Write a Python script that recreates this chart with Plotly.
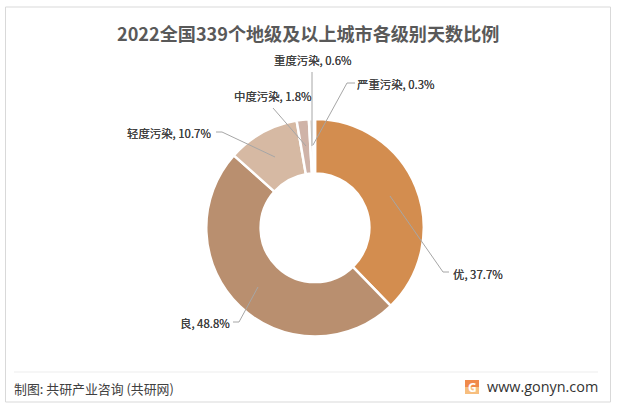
import plotly.graph_objects as go

W, H = 618, 410

# 数据
levels = ["优", "良", "轻度污染", "中度污染", "重度污染", "严重污染"]
shares = [37.7, 48.8, 10.7, 1.8, 0.6, 0.3]
colors = ["#D38D4F", "#B98F6F", "#D6B9A3", "#CFB3A8", "#E3DBD2", "#EFE6DC"]

title_text = "2022全国339个地级及以上城市各级别天数比例"
source_text = "制图: 共研产业咨询 (共研网)"
site_text = "www.gonyn.com"

CJK = "'Noto Sans CJK SC', 'Noto Sans', sans-serif"
LABEL_COLOR = "#404040"


def px(x):
    return x / W


def py(y):
    return 1 - y / H


fig = go.Figure(go.Pie(
    labels=levels,
    values=shares,
    marker=dict(colors=colors, line=dict(color="white", width=2.5)),
    hole=0.5,
    sort=False,
    direction="clockwise",
    rotation=0,
    textinfo="none",
    hoverinfo="label+percent",
    domain=dict(x=[px(206), px(424)], y=[py(336.5), py(119)]),
    showlegend=False,
))

# 标签位置和引导线 (像素)
label_layout = {
    "优": (453, 273.5, "left", [(390, 196), (443, 272), (449, 272)]),
    "良": (230, 322.5, "right", [(258, 287), (239, 322), (233, 322)]),
    "轻度污染": (211, 133, "right", [(216, 132), (222, 132), (275, 157)]),
    "中度污染": (312, 96, "right", [(273, 108), (306, 146)]),
    "重度污染": (352, 60, "right", [(312, 72), (312, 146)]),
    "严重污染": (357, 84, "left", [(355, 83), (347, 83), (313, 145)]),
}

shapes = [
    # 外框
    dict(type="rect", xref="paper", yref="paper", x0=px(5.5), x1=px(610.5), y0=py(402), y1=py(7),
         line=dict(color="#D9D9D9", width=1), fillcolor="rgba(0,0,0,0)", layer="below"),
    # 分隔线
    dict(type="line", xref="paper", yref="paper", x0=px(14), x1=px(598), y0=py(372), y1=py(372),
         line=dict(color="#EDEDED", width=1)),
    # logo
    dict(type="rect", xref="paper", yref="paper", x0=px(465), x1=px(479), y0=py(394), y1=py(387),
         line=dict(width=0), fillcolor="#F7BE7E"),
    dict(type="rect", xref="paper", yref="paper", x0=px(465), x1=px(479), y0=py(387), y1=py(380),
         line=dict(width=0), fillcolor="#F08A4B"),
]

annotations = [
    dict(text=title_text, x=px(308), y=py(33), xref="paper", yref="paper", showarrow=False,
         xanchor="center", yanchor="middle", font=dict(family=CJK, size=18.1, color="#595959", weight="bold")),
    dict(text=source_text, x=px(14), y=py(388), xref="paper", yref="paper", showarrow=False, borderpad=0, borderwidth=0,
         xanchor="left", yanchor="middle", font=dict(family=CJK, size=12.9, color="#404040")),
    dict(text=site_text, x=px(598), y=py(386), xref="paper", yref="paper", showarrow=False, borderpad=0, borderwidth=0,
         xanchor="right", yanchor="middle", font=dict(family="'Open Sans', sans-serif", size=14.4, color="#333333")),
    dict(text="G", x=px(472), y=py(387), xref="paper", yref="paper", showarrow=False,
         xanchor="center", yanchor="middle", font=dict(family="'Open Sans', sans-serif", size=12, color="white", weight="bold")),
]

for name, share in zip(levels, shares):
    x, y, anchor, pts = label_layout[name]
    annotations.append(dict(
        text=f"{name}, {share}%", x=px(x), y=py(y), xref="paper", yref="paper", showarrow=False,
        borderpad=0, borderwidth=0, xanchor=anchor, yanchor="middle",
        font=dict(family=CJK, size=11.4, color=LABEL_COLOR, shadow="0 0 0.6px #404040"),
    ))
    for (x0, y0), (x1, y1) in zip(pts, pts[1:]):
        shapes.append(dict(type="line", xref="paper", yref="paper", x0=px(x0), y0=py(y0), x1=px(x1), y1=py(y1),
                           line=dict(color="#A6A6A6", width=1)))

fig.update_layout(
    width=W,
    height=H,
    margin=dict(l=0, r=0, t=0, b=0),
    paper_bgcolor="white",
    shapes=shapes,
    annotations=annotations,
)

# 去掉页面默认的 body 边距
fig.write_html("out.html", config=dict(displayModeBar=False),
               post_script="document.body.style.margin='0';document.documentElement.style.overflow='hidden';")
